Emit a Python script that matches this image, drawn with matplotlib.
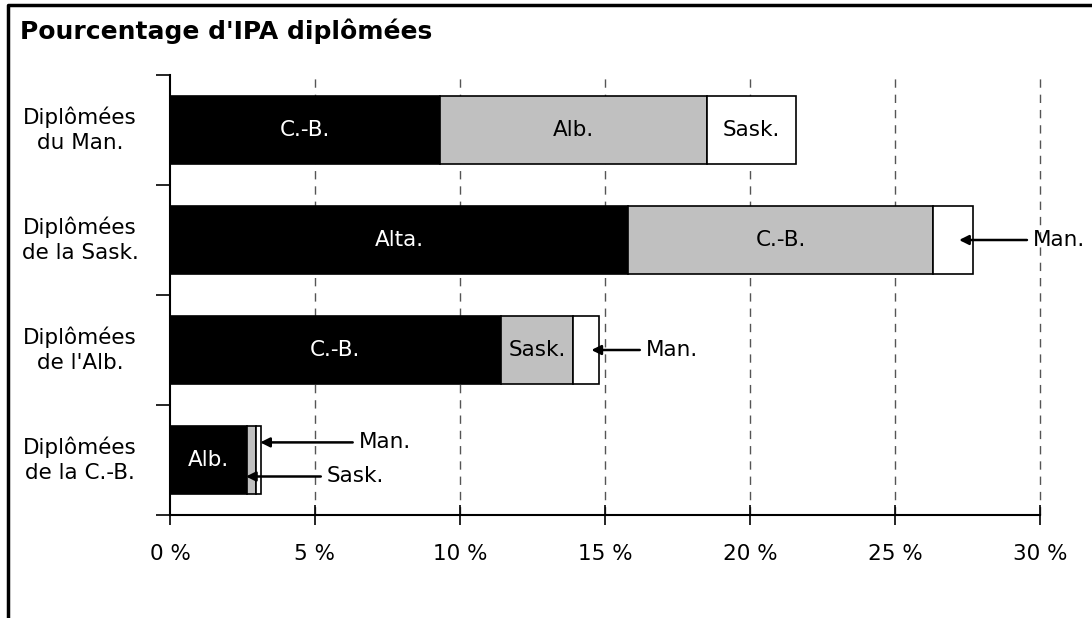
import numpy as np
import matplotlib
matplotlib.use("Agg")
import matplotlib.pyplot as plt
from matplotlib.lines import Line2D

plt.rcParams["font.family"] = ["DejaVu Sans"]

# Dataset (percent of graduates, by destination province)
groups = ["Diplômées\ndu Man.", "Diplômées\nde la Sask.", "Diplômées\nde l'Alb.", "Diplômées\nde la C.-B."]
seg_black = [9.3, 15.8, 11.4, 2.65]
seg_gray = [9.2, 10.5, 2.5, 0.3]
seg_white = [3.1, 1.4, 0.9, 0.2]
lab_black = ["C.-B.", "Alta.", "C.-B.", "Alb."]
lab_gray = ["Alb.", "C.-B.", "Sask.", ""]
lab_white = ["Sask.", "", "", ""]
xticks = [0, 5, 10, 15, 20, 25, 30]

fig = plt.figure(figsize=(10.92, 6.18), dpi=100)
ax = fig.add_axes([170/1092, 103/618, 870/1092, 440/618])

y = np.arange(len(groups))
h = 0.62
black = np.array(seg_black)
gray = np.array(seg_gray)
white = np.array(seg_white)

ax.barh(y, black, height=h, color="black", edgecolor="black", lw=1.2, zorder=3)
ax.barh(y, gray, left=black, height=h, color="#c0c0c0", edgecolor="black", lw=1.2, zorder=3)
ax.barh(y, white, left=black + gray, height=h, color="white", edgecolor="black", lw=1.2, zorder=3)

fs = 15.5
for i in range(len(groups)):
    ax.text(black[i] / 2, i, lab_black[i], color="white", ha="center", va="center", fontsize=fs, zorder=4)
    if lab_gray[i]:
        ax.text(black[i] + gray[i] / 2, i, lab_gray[i], ha="center", va="center", fontsize=fs, zorder=4)
    if lab_white[i]:
        ax.text(black[i] + gray[i] + white[i] / 2, i, lab_white[i], ha="center", va="center", fontsize=fs, zorder=4)

# callouts for small segments
arr = dict(arrowstyle="-|>", color="black", lw=1.8, mutation_scale=14, shrinkA=0, shrinkB=0)
def callout(xtip, yy, xtail, txt):
    ax.annotate("", xy=(xtip, yy), xytext=(xtail, yy), arrowprops=arr, zorder=5)
    ax.text(xtail + 0.2, yy, txt, ha="left", va="center", fontsize=fs)

end1 = black[1] + gray[1]
callout(end1 + white[1] * 0.65, 1, 29.55, "Man.")
end2 = black[2] + gray[2]
callout(end2 + white[2] * 0.7, 2, 16.2, "Man.")
callout(black[3] + gray[3] + white[3] * 0.8, 2.84, 6.3, "Man.")
callout(black[3] - 0.03, 3.15, 5.2, "Sask.")

for i, g in enumerate(groups):
    ax.text(-3.1, i, g, ha="center", va="center", fontsize=fs, linespacing=1.3)

ax.set_xlim(0, 30)
ax.set_ylim(3.5, -0.5)
ax.set_xticks(xticks)
ax.set_xticklabels([f"{t} %" for t in xticks], fontsize=fs)
ax.set_yticks(np.arange(-0.5, len(groups), 1.0))
ax.set_yticklabels([])
ax.tick_params(axis="x", direction="inout", length=14, width=1.2, pad=14)
ax.tick_params(axis="y", direction="out", length=10, width=1.2)
for t in xticks[1:]:
    ax.axvline(t, ls=(0, (6, 5)), color="#555555", lw=1, zorder=0, clip_on=False)
ax.spines["top"].set_visible(False)
ax.spines["right"].set_visible(False)
ax.spines["left"].set_linewidth(1.5)
ax.spines["bottom"].set_linewidth(1.5)

fig.text(20/1092, 1 - 31/618, "Pourcentage d'IPA diplômées", fontsize=18, fontweight="bold", va="center")
# frame
fig.add_artist(Line2D([8/1092, 8/1092, 1], [0, 1 - 5/618, 1 - 5/618], color="black", lw=2.5,
                      transform=fig.transFigure))

fig.savefig("out.png", dpi=100)
